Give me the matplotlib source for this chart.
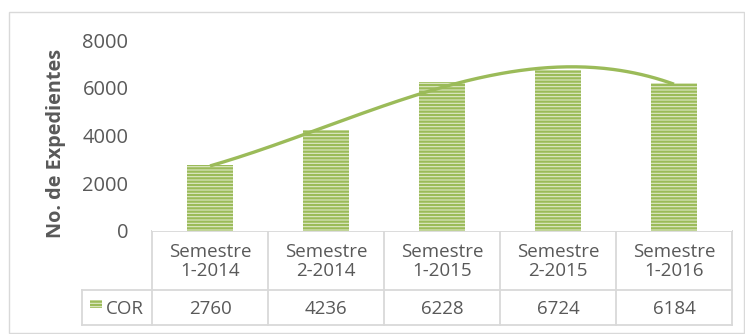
import numpy as np
import matplotlib
matplotlib.use("Agg")
import matplotlib.pyplot as plt
from matplotlib.patches import Rectangle

categories = ["Semestre\n1-2014", "Semestre\n2-2014", "Semestre\n1-2015", "Semestre\n2-2015", "Semestre\n1-2016"]
values = [2760, 4236, 6228, 6724, 6184]
series_name = "COR"
yticks = [0, 2000, 4000, 6000, 8000]

GREEN = "#9bbb59"
LIGHT = "#dfe9c8"
TXT = "#595959"
GRID = "#d9d9d9"
FONT = "Open Sans"

W, H = 745, 334
fig = plt.figure(figsize=(W / 100, H / 100), dpi=100)
plt.rcParams["hatch.linewidth"] = 1.6
plt.rcParams["hatch.color"] = GREEN

# pixel geometry
ax_l, ax_r, ax_b, ax_t = 152, 732, 231, 40
ax = fig.add_axes([ax_l / W, 1 - ax_b / H, (ax_r - ax_l) / W, (ax_b - ax_t) / H])

x = np.arange(len(values))
ax.bar(x, values, width=0.39, color=LIGHT, edgecolor=GREEN, hatch="-----", linewidth=0)

coef = np.polyfit(x, values, 3)
xs = np.linspace(0, len(values) - 1, 200)
ax.plot(xs, np.polyval(coef, xs), color=GREEN, lw=2.4, solid_capstyle="butt")

ax.set_xlim(-0.5, len(values) - 0.5)
ax.set_ylim(0, 8000)
ax.set_yticks(yticks)
ax.set_yticklabels([str(v) for v in yticks], fontsize=14.5, color=TXT, fontfamily=FONT)
ax.tick_params(axis="y", length=0, pad=17)
ax.set_xticks([])
for s in ax.spines.values():
    s.set_visible(False)
ax.set_ylabel("No. de Expedientes", fontsize=14.3, fontweight="bold", color=TXT,
              fontfamily=FONT)
ax.yaxis.set_label_coords(-0.148, 0.46)

# overlay in pixel coordinates
ov = fig.add_axes([0, 0, 1, 1], zorder=-1)
ov.set_xlim(0, W)
ov.set_ylim(H, 0)
ov.axis("off")

# outer border
ov.add_patch(Rectangle((8.5, 11.5), W - 9.5, H - 13, fill=False, edgecolor=GRID, lw=1))

# table
row1_top, row1_bot, row2_bot = 231, 290, 325
legend_l = 82
ncol = len(values)
cw = (ax_r - ax_l) / ncol
lw = 1.3
ov.plot([ax_l, ax_r], [row1_top, row1_top], color=GRID, lw=lw)
ov.plot([legend_l, ax_r], [row1_bot, row1_bot], color=GRID, lw=lw)
ov.plot([legend_l, ax_r], [row2_bot, row2_bot], color=GRID, lw=lw)
ov.plot([legend_l, legend_l], [row1_bot, row2_bot], color=GRID, lw=lw)
for i in range(ncol + 1):
    xp = ax_l + i * cw
    ov.plot([xp, xp], [row1_top, row2_bot], color=GRID, lw=lw)
for i in range(ncol):
    xc = ax_l + (i + 0.5) * cw
    ov.text(xc, (row1_top + row1_bot) / 2 + 1, categories[i], ha="center", va="center",
            fontsize=13.5, color=TXT, fontfamily=FONT, linespacing=1.12)
    ov.text(xc, (row1_bot + row2_bot) / 2 + 1, str(values[i]), ha="center", va="center",
            fontsize=13.5, color=TXT, fontfamily=FONT)

# legend key
ov.add_patch(Rectangle((90, 300), 12, 8, facecolor=LIGHT, edgecolor=GREEN, hatch="-----", lw=0))
ov.text(106, (row1_bot + row2_bot) / 2 + 1, series_name, ha="left", va="center",
        fontsize=13.5, color=TXT, fontfamily=FONT)

fig.savefig("out.png", dpi=100)
